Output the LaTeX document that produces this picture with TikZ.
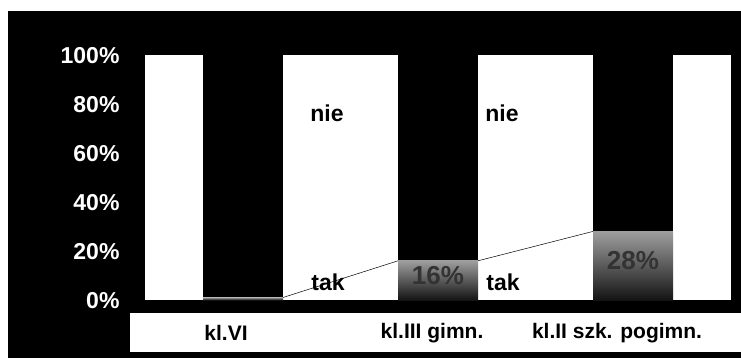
\documentclass[tikz,border=0pt]{standalone}
\usepackage{fontspec}
\setmainfont{Liberation Sans}
\begin{document}
\begin{tikzpicture}[x=1pt,y=-1pt,
  bar/.style={inner sep=0pt,outer sep=0pt,anchor=south west,minimum width=80pt},
  nie/.style={bar,fill=black,minimum height=245pt},
  tak/.style={bar,top color=black!38,bottom color=black!92},
  val/.style={text=black!80,font=\fontsize{26}{26}\selectfont\bfseries},
  lab/.style={font=\fontsize{23}{23}\selectfont\bfseries},
  ax/.style={text=white,anchor=east,font=\fontsize{23}{23}\selectfont\bfseries},
  cat/.style={font=\fontsize{21}{21}\selectfont\bfseries}]
\useasboundingbox (0,0) rectangle (741,358);
\fill[black] (8,11) rectangle (741,358);
\fill[white] (145,55) rectangle (731,300);
\fill[white] (130,313) rectangle (741,352);
% axis
\foreach \v in {0,20,...,100}
  \node[ax] (ax\v) at (123,301-2.45*\v) {\v\%};
% bars
\node[nie] (nie1) at (203,300) {};
\node[nie] (nie2) at (398,300) {};
\node[nie] (nie3) at (593,300) {};
\node[tak,minimum height=2.5pt] (tak1) at (203,300) {};
\node[tak,minimum height=39.2pt] (tak2) at (398,300) {};
\node[tak,minimum height=68.6pt] (tak3) at (593,300) {};
\node[val] (v2) at ([yshift=5pt]tak2.center) {16\%};
\node[val] (v3) at ([yshift=5pt]tak3.center) {28\%};
\draw[line width=0.5pt] (tak1.north east) -- (tak2.north west);
\draw[line width=0.5pt] (tak2.north east) -- (tak3.north west);
% series names
\node[lab] (nieA) at (327,113) {nie};
\node[lab] (nieB) at (502,113) {nie};
\node[lab] (takA) at (328,282) {tak};
\node[lab] (takB) at (503,282) {tak};
% categories
\node[cat] (c1) at (226,333) {kl.VI};
\node[cat] (c2) at (432,333) {kl.III gimn.};
\node[cat] (c3) at (617,333) {kl.II szk. pogimn.};
\end{tikzpicture}
\end{document}
